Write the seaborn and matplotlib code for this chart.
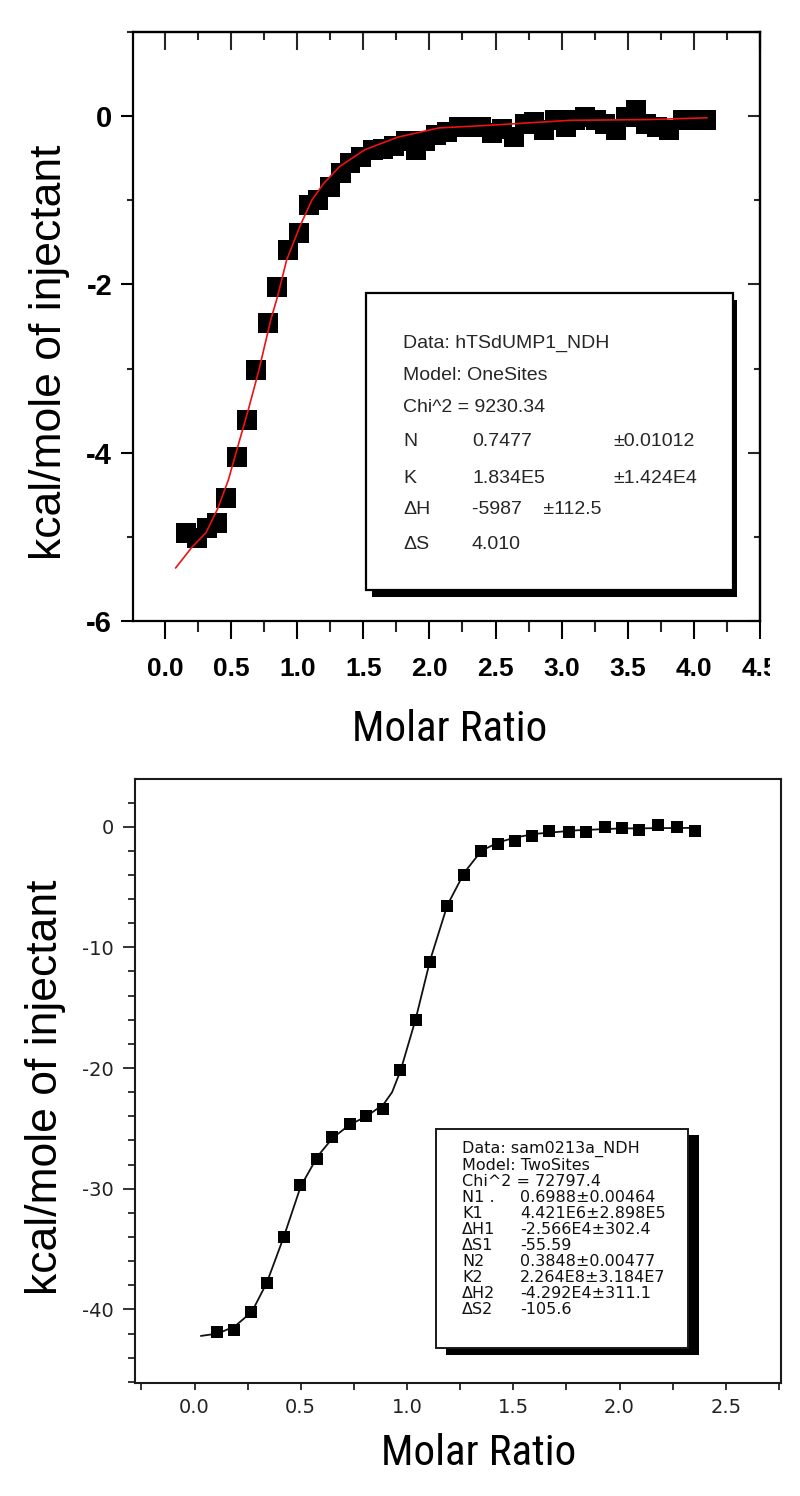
import numpy as np
import pandas as pd
import seaborn as sns
import matplotlib.pyplot as plt
from matplotlib import font_manager
from matplotlib.patches import Rectangle
from matplotlib.ticker import MultipleLocator, FormatStrFormatter
from matplotlib.transforms import Bbox, TransformedBbox

# --- data ---
# top panel (one-site fit)
ratio_top = [0.16, 0.24, 0.32, 0.39, 0.46, 0.545, 0.62, 0.69, 0.78, 0.85,
             0.93, 1.01, 1.09, 1.16, 1.25, 1.33, 1.40, 1.48, 1.57, 1.65,
             1.73, 1.82, 1.90, 1.97, 2.05, 2.13, 2.22, 2.31, 2.39, 2.47,
             2.55, 2.64, 2.72, 2.79, 2.87, 2.95, 3.03, 3.10, 3.18, 3.26,
             3.33, 3.41, 3.49, 3.56, 3.64, 3.72, 3.81, 3.92, 4.00, 4.09]
heat_top = [-4.95, -5.01, -4.89, -4.83, -4.54, -4.05, -3.61, -3.02, -2.46, -2.03,
            -1.59, -1.39, -1.06, -1.00, -0.84, -0.68, -0.56, -0.48, -0.40, -0.39,
            -0.36, -0.29, -0.40, -0.29, -0.23, -0.19, -0.13, -0.13, -0.13, -0.20,
            -0.15, -0.25, -0.09, -0.07, -0.16, -0.05, -0.13, -0.05, -0.01, -0.05,
            -0.09, -0.16, -0.01, 0.07, -0.09, -0.13, -0.16, -0.05, -0.05, -0.05]
fit_top_x = [0.08, 0.20, 0.31, 0.40, 0.48, 0.55, 0.63, 0.71, 0.80, 0.85,
             0.92, 1.02, 1.11, 1.20, 1.32, 1.51, 1.76, 2.07, 2.44, 3.06, 3.67, 4.10]
fit_top_y = [-5.37, -5.13, -4.95, -4.66, -4.32, -3.93, -3.49, -3.02, -2.42, -2.15,
             -1.71, -1.31, -1.00, -0.80, -0.60, -0.40, -0.25, -0.14, -0.11, -0.05, -0.04, -0.02]

# bottom panel (two-site fit)
ratio_bot = [0.107, 0.185, 0.266, 0.343, 0.42, 0.496, 0.576, 0.648, 0.73, 0.806,
             0.889, 0.965, 1.04, 1.11, 1.19, 1.27, 1.35, 1.43, 1.51, 1.59,
             1.67, 1.76, 1.84, 1.93, 2.01, 2.09, 2.18, 2.27, 2.354]
heat_bot = [-41.9, -41.7, -40.2, -37.8, -34.0, -29.7, -27.5, -25.7, -24.6, -24.0,
            -23.4, -20.2, -16.0, -11.2, -6.6, -4.0, -2.0, -1.46, -1.18, -0.74,
            -0.33, -0.47, -0.41, -0.05, -0.14, -0.27, 0.14, 0.0, -0.33]
fit_bot_x = [0.03, 0.11, 0.19, 0.27, 0.34, 0.42, 0.50, 0.58, 0.65, 0.73, 0.81,
             0.89, 0.93, 0.97, 1.04, 1.11, 1.19, 1.27, 1.35, 1.43, 1.51, 1.60,
             1.80, 2.00, 2.35]
fit_bot_y = [-42.2, -42.0, -41.4, -40.2, -37.8, -34.0, -29.8, -27.3, -25.8, -24.7, -24.0,
             -23.0, -22.0, -20.2, -16.0, -11.0, -6.5, -3.8, -2.0, -1.3, -0.9, -0.6,
             -0.3, -0.15, -0.1]

box_top_rows = [("Data: hTSdUMP1_NDH", "", ""),
                ("Model: OneSites", "", ""),
                ("Chi^2 = 9230.34", "", ""),
                ("N", "0.7477", "\u00b10.01012"),
                ("K", "1.834E5", "\u00b11.424E4"),
                ("\u0394H", "-5987    \u00b1112.5", ""),
                ("\u0394S", "4.010", "")]
box_bot_rows = [("Data: sam0213a_NDH", ""),
                ("Model: TwoSites", ""),
                ("Chi^2 = 72797.4", ""),
                ("N1 .", "0.6988\u00b10.00464"),
                ("K1", "4.421E6\u00b12.898E5"),
                ("\u0394H1", "-2.566E4\u00b1302.4"),
                ("\u0394S1", "-55.59"),
                ("N2", "0.3848\u00b10.00477"),
                ("K2", "2.264E8\u00b13.184E7"),
                ("\u0394H2", "-4.292E4\u00b1311.1"),
                ("\u0394S2", "-105.6")]

sns.set_style('ticks')
plt.rcParams['font.family'] = ['Liberation Sans', 'DejaVu Sans']
plt.rcParams['axes.unicode_minus'] = False

# "Molar Ratio" is set in a condensed face in the original
installed = {f.name for f in font_manager.fontManager.ttflist}
if 'Liberation Sans Narrow' in installed:
    narrow, narrow_size = 'Liberation Sans Narrow', 32
elif 'Roboto Condensed' in installed:
    narrow, narrow_size = 'Roboto Condensed', 31
else:
    narrow, narrow_size = 'Liberation Sans', 28

W, H = 800, 1496
fig = plt.figure(figsize=(W / 100, H / 100), dpi=100)


def px_rect(l, t, r, b):
    return [l / W, 1 - b / H, (r - l) / W, (b - t) / H]


def fx(x):
    return x / W


def fy(y):
    return 1 - y / H


# ---------------- top panel ----------------
ax1 = fig.add_axes(px_rect(133, 32, 760, 621))
df_top = pd.DataFrame({'ratio': ratio_top, 'heat': heat_top})
sns.scatterplot(data=df_top, x='ratio', y='heat', ax=ax1, marker='s', s=190,
                color='black', linewidth=0, zorder=2)
sns.lineplot(x=fit_top_x, y=fit_top_y, ax=ax1, color='#ee1111', lw=1.2,
             sort=False, estimator=None, zorder=3)
ax1.set_xlim(-0.242, 4.5)
ax1.set_ylim(-6, 1)
ax1.xaxis.set_major_locator(MultipleLocator(0.5))
ax1.xaxis.set_minor_locator(MultipleLocator(0.25))
ax1.yaxis.set_major_locator(MultipleLocator(2))
ax1.yaxis.set_minor_locator(MultipleLocator(1))
ax1.xaxis.set_major_formatter(FormatStrFormatter('%.1f'))
ax1.yaxis.set_major_formatter(FormatStrFormatter('%d'))
ax1.tick_params(axis='x', which='major', direction='out', length=13, width=1.5, pad=13,
                labelsize=19, colors='black')
ax1.tick_params(axis='x', which='minor', direction='out', length=8, width=1.5)
ax1.tick_params(axis='y', which='major', direction='out', length=9, width=1.5, pad=6,
                labelsize=21, colors='black')
ax1.tick_params(axis='y', which='minor', direction='out', length=4, width=1.5)
for lab in ax1.get_xticklabels() + ax1.get_yticklabels():
    lab.set_fontweight('bold')
for sp in ax1.spines.values():
    sp.set_linewidth(1.6)
    sp.set_color('black')
    sp.set_visible(True)

sec_x = ax1.secondary_xaxis('top')
sec_x.xaxis.set_major_locator(MultipleLocator(0.5))
sec_x.xaxis.set_minor_locator(MultipleLocator(0.25))
sec_x.tick_params(which='major', direction='in', length=13, width=1.5, labeltop=False)
sec_x.tick_params(which='minor', direction='in', length=6, width=1.5)
sec_x.spines['top'].set_linewidth(1.6)
sec_y = ax1.secondary_yaxis('right')
sec_y.yaxis.set_major_locator(MultipleLocator(2))
sec_y.yaxis.set_minor_locator(MultipleLocator(1))
sec_y.tick_params(which='major', direction='in', length=9, width=1.5, labelright=False)
sec_y.tick_params(which='minor', direction='in', length=4, width=1.5)
sec_y.spines['right'].set_linewidth(1.6)

ax1.set_xlabel('Molar Ratio', fontsize=narrow_size, family=narrow, va='center', color='black')
ax1.xaxis.set_label_coords(0.5056, -0.1834)
ax1.set_ylabel('kcal/mole of injectant', fontsize=32, va='center', color='black')
ax1.yaxis.set_label_coords(-0.1324, 0.4567)

# fit-result box of the top panel
fig.add_artist(Rectangle((fx(372), fy(597)), fx(737) - fx(372), fy(300) - fy(597),
                         transform=fig.transFigure, facecolor='black', edgecolor='none', zorder=5))
fig.add_artist(Rectangle((fx(366), fy(590)), fx(733) - fx(366), fy(293) - fy(590),
                         transform=fig.transFigure, facecolor='white', edgecolor='black',
                         linewidth=1.6, zorder=6))
rows_y = [343, 375, 408, 442, 478, 510, 545]
for (name, val, err), yy in zip(box_top_rows, rows_y):
    fig.text(fx(403), fy(yy), name, fontsize=14, va='center', ha='left', zorder=7)
    if val:
        fig.text(fx(472), fy(yy), val, fontsize=14, va='center', ha='left', zorder=7)
    if err:
        fig.text(fx(613), fy(yy), err, fontsize=14, va='center', ha='left', zorder=7)

# ---------------- bottom panel ----------------
ax2 = fig.add_axes(px_rect(135, 779, 781, 1383))
df_bot = pd.DataFrame({'ratio': ratio_bot, 'heat': heat_bot})
sns.lineplot(x=fit_bot_x, y=fit_bot_y, ax=ax2, color='#111111', lw=1.3,
             sort=False, estimator=None, zorder=2)
sns.scatterplot(data=df_bot, x='ratio', y='heat', ax=ax2, marker='s', s=85,
                color='black', linewidth=0, zorder=3)
ax2.set_xlim(-0.28, 2.76)
ax2.set_ylim(-46.1, 3.95)
ax2.xaxis.set_major_locator(MultipleLocator(0.5))
ax2.xaxis.set_minor_locator(MultipleLocator(0.25))
ax2.yaxis.set_major_locator(MultipleLocator(10))
ax2.yaxis.set_minor_locator(MultipleLocator(2))
ax2.xaxis.set_major_formatter(FormatStrFormatter('%.1f'))
ax2.yaxis.set_major_formatter(FormatStrFormatter('%d'))
ax2.tick_params(axis='x', which='both', direction='out', length=5, width=1.3, pad=6,
                labelsize=14, colors='#222222')
ax2.tick_params(axis='y', which='major', direction='out', length=9, width=1.3, pad=6,
                labelsize=14, colors='#222222')
ax2.tick_params(axis='y', which='minor', direction='out', length=5, width=1.3)
for lab in ax2.get_xticklabels() + ax2.get_yticklabels():
    lab.set_family('DejaVu Sans')
for sp in ax2.spines.values():
    sp.set_linewidth(1.5)
    sp.set_color('#1a1a1a')
    sp.set_visible(True)

ax2.set_xlabel('Molar Ratio', fontsize=narrow_size, family=narrow, va='center', color='black')
ax2.xaxis.set_label_coords(0.5325, -0.1175)
ax2.set_ylabel('kcal/mole of injectant', fontsize=32, va='center', color='black')
ax2.yaxis.set_label_coords(-0.1393, 0.490)

fig.add_artist(Rectangle((fx(446), fy(1355)), fx(699) - fx(446), fy(1135) - fy(1355),
                         transform=fig.transFigure, facecolor='black', edgecolor='none', zorder=5))
fig.add_artist(Rectangle((fx(436), fy(1348)), fx(688) - fx(436), fy(1129) - fy(1348),
                         transform=fig.transFigure, facecolor='white', edgecolor='#1a1a1a',
                         linewidth=1.4, zorder=6))
rows_y2 = [1149, 1166, 1182, 1198, 1213, 1229, 1246, 1262, 1277, 1294, 1310]
for (name, val), yy in zip(box_bot_rows, rows_y2):
    fig.text(fx(462), fy(yy), name, fontsize=11.5, va='center', ha='left',
             family='DejaVu Sans', color='#111111', zorder=7)
    if val:
        fig.text(fx(520), fy(yy), val, fontsize=11.5, va='center', ha='left',
                 family='DejaVu Sans', color='#111111', zorder=7)

# the scanned original is cut just right of the last tick label
fig.canvas.draw()
clip = TransformedBbox(Bbox.from_extents(0, 0, 770 / W, 1), fig.transFigure)
for lab in ax1.get_xticklabels():
    if lab.get_text() == '4.5':
        lab.set_clip_box(clip)
        lab.set_clip_on(True)

fig.savefig('out.png', dpi=100)
